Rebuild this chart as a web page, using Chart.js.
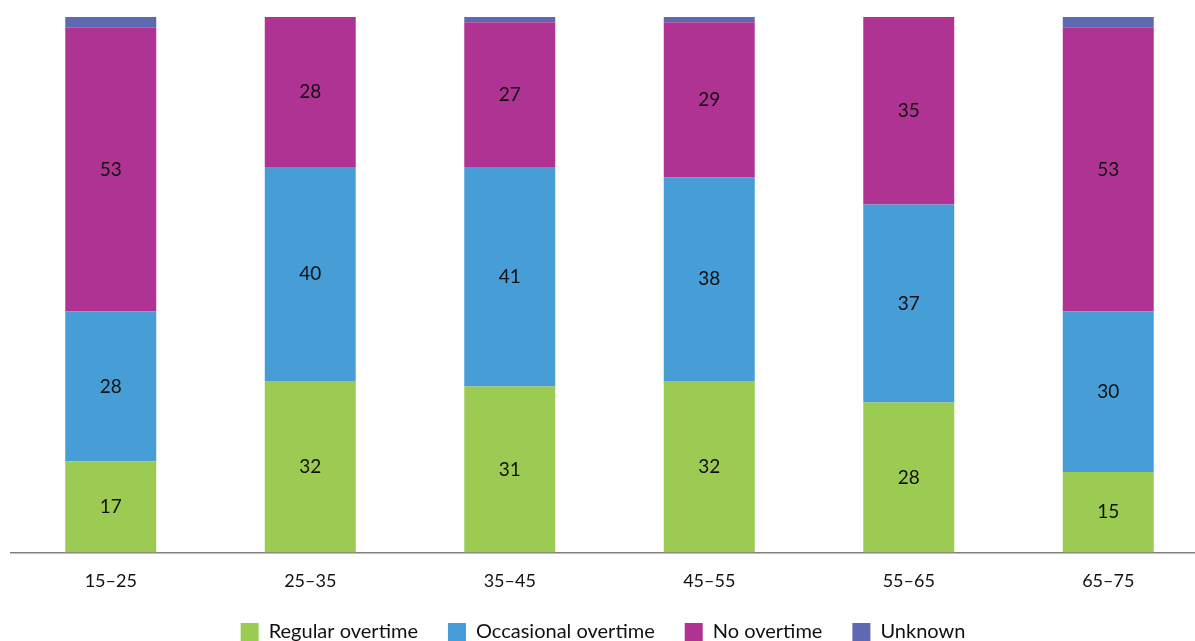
<!DOCTYPE html>
<html>
<head>
<meta charset="utf-8">
<script src="https://cdn.jsdelivr.net/npm/chart.js@4"></script>
<style>
    html, body { margin: 0; padding: 0; background: #fff; }
    #wrap { width: 1195px; height: 641px; }
</style>
</head>
<body>
<div id="wrap"><canvas id="overtimeChart"></canvas></div>
<script>
// ==================== Data ====================
const ageGroups = ['15–25', '25–35', '35–45', '45–55', '55–65', '65–75'];
const regularOvertime = [17, 32, 31, 32, 28, 15];
const occasionalOvertime = [28, 40, 41, 38, 37, 30];
const noOvertime = [53, 28, 27, 29, 35, 53];
const unknown = [2, 0, 1, 1, 0, 2];

const FONT = 'Lato, "Noto Sans", sans-serif';
const LEGEND_SHIFT = -18;
const AXIS_OVERHANG = 13;

// ==================== Segment value labels ====================
const segmentLabels = {
    id: 'segmentLabels',
    afterDatasetsDraw(chart) {
        const ctx = chart.ctx;
        ctx.save();
        ctx.font = '19px ' + FONT;
        ctx.fillStyle = '#111';
        ctx.textAlign = 'center';
        ctx.textBaseline = 'middle';
        chart.data.datasets.forEach((ds, i) => {
            if (!ds.showValues) return;
            chart.getDatasetMeta(i).data.forEach((bar, j) => {
                const v = ds.data[j];
                if (!v) return;
                ctx.fillText(v, bar.x, (bar.y + bar.base) / 2);
            });
        });
        ctx.restore();
    }
};

// pull the legend up closer to the axis labels and let the x scale run past the right edge
const layoutTweaks = {
    id: 'layoutTweaks',
    afterLayout(chart) {
        const lg = chart.legend;
        if (lg) {
            lg.top += LEGEND_SHIFT;
            lg.bottom += LEGEND_SHIFT;
        }
        const x = chart.scales.x;
        x.right += AXIS_OVERHANG;
        x.width += AXIS_OVERHANG;
        x.configure();
    }
};

// ==================== Chart ====================
const ctx = document.getElementById('overtimeChart').getContext('2d');
const overtimeChart = new Chart(ctx, {
    type: 'bar',
    data: {
        labels: ageGroups,
        datasets: [
            { label: 'Regular overtime', data: regularOvertime, backgroundColor: '#9BCB52', showValues: true },
            { label: 'Occasional overtime', data: occasionalOvertime, backgroundColor: '#479DD6', showValues: true },
            { label: 'No overtime', data: noOvertime, backgroundColor: '#AF3392', showValues: true },
            { label: 'Unknown', data: unknown, backgroundColor: '#5F69B2', showValues: false }
        ]
    },
    options: {
        responsive: true,
        maintainAspectRatio: false,
        animation: false,
        datasets: {
            bar: {
                categoryPercentage: 0.456,
                barPercentage: 1,
                borderWidth: 0
            }
        },
        layout: {
            padding: { top: 17, left: 11, right: 0, bottom: -29 }
        },
        plugins: {
            legend: {
                display: true,
                position: 'bottom',
                labels: {
                    boxWidth: 18,
                    boxHeight: 18,
                    padding: 30,
                    color: '#111',
                    font: { size: 20, family: FONT }
                }
            },
            tooltip: { enabled: false }
        },
        scales: {
            x: {
                stacked: true,
                grid: { display: false, drawTicks: false },
                border: { display: true, color: '#808080', width: 1.5 },
                ticks: {
                    color: '#111',
                    padding: 18,
                    font: { size: 18, family: FONT }
                }
            },
            y: {
                stacked: true,
                display: false,
                min: 0,
                max: 100
            }
        }
    },
    plugins: [segmentLabels, layoutTweaks]
});
</script>
</body>
</html>
